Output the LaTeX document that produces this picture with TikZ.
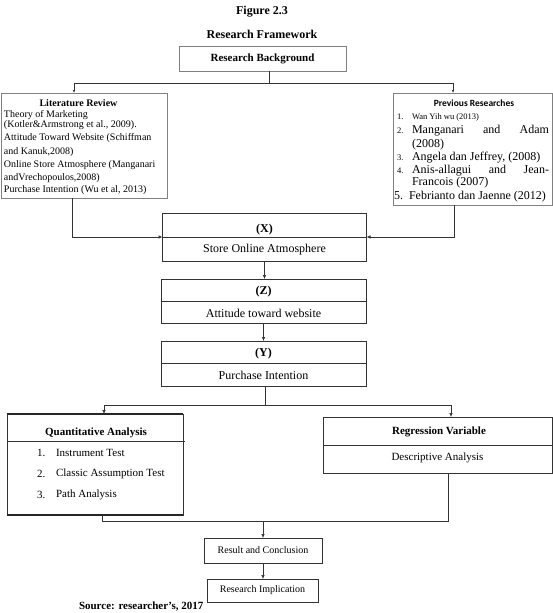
\documentclass[tikz,border=0pt]{standalone}
\usepackage{fontspec}
\setmainfont{Liberation Serif}
\newfontfamily\calibri{Carlito}
\usetikzlibrary{arrows.meta}

\newcommand{\fsz}[1]{\fontsize{#1}{#1}\selectfont}

\begin{document}
\begin{tikzpicture}
        [x=1pt, y=-1pt, every node/.style={inner sep=0, outer sep=0},
         box/.style={draw=black!80, line width=0.6pt, rectangle},
         gbox/.style={draw=gray, line width=0.9pt, rectangle},
         line/.style={draw=black!80, line width=0.6pt},
         arr/.style={line, -{Latex[length=4pt,width=3.5pt]}},
         sarr/.style={line, -{Latex[length=3pt,width=2.5pt]}},
         littxt/.style={anchor=west, font=\fsz{10}},
         prevtxt/.style={anchor=west, font=\fsz{12}},
         num/.style={anchor=west, font=\fsz{8.5}},
         item/.style={anchor=west, font=\fsz{11}}]

        \useasboundingbox (0,0) rectangle (553,613);

        % titles
        \node[font=\bfseries\fsz{12}] (fig) at (262,12) {Figure 2.3};
        \node[font=\bfseries\fsz{12}] (frame) at (262,34) {Research Framework};
        \node[gbox, minimum width=167, minimum height=25, font=\bfseries\fsz{11}] (rb) at (262.5,58.5) {Research Background};

        % literature review
        \node[gbox, minimum width=166, minimum height=105] (lit) at (84,145.5) {};
        \node[font=\bfseries\fsz{10}] (littitle) at (78.5,103) {Literature Review};
        \node[littxt] (lit1) at (4,115) {Theory of Marketing};
        \node[littxt] (lit2) at (4,125.5) {(Kotler\&Armstrong et al., 2009).};
        \node[littxt] (lit3) at (4,138.5) {Attitude Toward Website (Schiffman};
        \node[littxt] (lit4) at (4,152) {and Kanuk,2008)};
        \node[littxt] (lit5) at (4,165) {Online Store Atmosphere (Manganari};
        \node[littxt] (lit6) at (4,178) {andVrechopoulos,2008)};
        \node[littxt] (lit7) at (4,190) {Purchase Intention (Wu et al, 2013)};

        % previous researches
        \node[gbox, minimum width=159, minimum height=112] (prev) at (472.5,149) {};
        \node[font=\calibri\bfseries\fsz{9.5}] (prevtitle) at (474,103) {Previous Researches};
        \node[num] (n1) at (397,117) {1.};
        \node[num, font=\fsz{8.5}] (p1) at (412,117) {Wan Yih wu (2013)};
        \node[num] (n2) at (397,130.5) {2.};
        \node[prevtxt] (p2) at (412,130.5) {\makebox[137pt][s]{Manganari and Adam}};
        \node[prevtxt] (p2b) at (412,145) {(2008)};
        \node[num] (n3) at (397,157.5) {3.};
        \node[prevtxt] (p3) at (412,157.5) {Angela dan Jeffrey, (2008)};
        \node[num] (n4) at (397,170.5) {4.};
        \node[prevtxt] (p4) at (412,170.5) {\makebox[137pt][s]{Anis-allagui and Jean-}};
        \node[prevtxt] (p4b) at (412,182.5) {Francois (2007)};
        \node[prevtxt] (p5) at (394,197) {5.\ \ Febrianto dan Jaenne (2012)};

        % variables
        \node[box, minimum width=204, minimum height=48] (xbox) at (264.5,237) {};
        \node[font=\bfseries\fsz{12}] (xlab) at (264.5,230) {(X)};
        \node[font=\fsz{12}] (xname) at (264.5,250) {Store Online Atmosphere};
        \node[box, minimum width=205, minimum height=44] (zbox) at (263.5,301) {};
        \node[font=\bfseries\fsz{12}] (zlab) at (263.5,292) {(Z)};
        \node[font=\fsz{12}] (zname) at (263.5,313) {Attitude toward website};
        \node[box, minimum width=205, minimum height=45] (ybox) at (263.5,363.5) {};
        \node[font=\bfseries\fsz{12}] (ylab) at (263.5,354) {(Y)};
        \node[font=\fsz{12}] (yname) at (263.5,375) {Purchase Intention};

        \draw[line] (xbox.west) -- (xbox.east);
        \draw[line] (zbox.west) -- (zbox.east);
        \draw[line] (ybox.west) -- (ybox.east);

        % analysis
        \node[box, minimum width=176, minimum height=101] (quant) at (95,464.5) {};
        \draw[line width=1.5pt, black!85] (quant.north west) -- (quant.north east);
        \draw[line width=1.5pt, black!85] (quant.south west) -- (quant.south east);
        \draw[line] ([yshift=-27pt]quant.north west) -- ([xshift=2pt,yshift=-27pt]quant.north east);
        \node[font=\bfseries\fsz{11}] (qtitle) at (96,433) {Quantitative Analysis};
        \node[item] (q1n) at (37,453) {1.};
        \node[item] (q1) at (56,453) {Instrument Test};
        \node[item] (q2n) at (37,474) {2.};
        \node[item] (q2) at (56,474) {Classic Assumption Test};
        \node[item] (q3n) at (37,495) {3.};
        \node[item] (q3) at (56,495) {Path Analysis};

        \node[box, minimum width=229, minimum height=56] (regr) at (437.5,445) {};
        \draw[line] (regr.west) -- (regr.east);
        \node[font=\bfseries\fsz{11}] (rtitle) at (439,432) {Regression Variable};
        \node[font=\fsz{11}] (rname) at (437.5,457.5) {Descriptive Analysis};

        % results
        \node[box, minimum width=118, minimum height=25, font=\fsz{10}] (res) at (263,550.5) {Result and Conclusion};
        \node[box, minimum width=111, minimum height=23, font=\fsz{10}] (impl) at (262.5,590.5) {Research Implication};
        \node[anchor=west, font=\bfseries\fsz{11}] (src) at (79,606.5) {Source: researcher’s, 2017};

        % connectors
        \coordinate (top) at (269,83);
        \coordinate (topl) at (74,83);
        \coordinate (topr) at (453,83);
        \draw[line] (rb.south -| top) -- (top);
        \draw[sarr] (top) -- (topl) -- (topl |- lit.north);
        \draw[sarr] (top) -- (topr) -- (topr |- prev.north);

        \coordinate (litout) at (72,237);
        \coordinate (prevout) at (454,237);
        \draw[arr] (lit.south -| litout) -- (litout) -- (xbox.west);
        \draw[arr] (prev.south -| prevout) -- (prevout) -- (xbox.east);
        \draw[arr] (xbox.south) -- (xbox.south |- zbox.north);
        \draw[arr] (zbox.south) -- (ybox.north);

        \coordinate (mid) at (265,405);
        \coordinate (midl) at (104,405);
        \coordinate (midr) at (451,405);
        \draw[line] (ybox.south -| mid) -- (mid);
        \draw[arr] (mid) -- (midl) -- (midl |- quant.north);
        \draw[arr] (mid) -- (midr) -- (midr |- regr.north);

        \coordinate (botl) at (102,521);
        \coordinate (bot) at (263,521);
        \coordinate (botr) at (448,521);
        \draw[line] (quant.south -| botl) -- (botl) -- (botr) -- (botr |- regr.south);
        \draw[arr] (bot) -- (res.north);
        \draw[arr] (res.south) -- (res.south |- impl.north);

      \end{tikzpicture}
\end{document}
